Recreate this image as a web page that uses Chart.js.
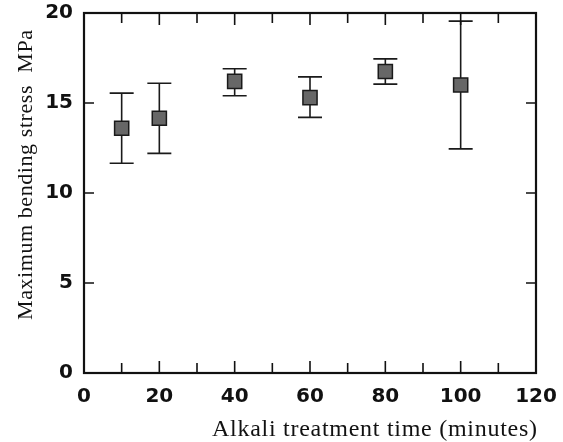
<!DOCTYPE html>
<html>
<head>
<meta charset="utf-8">
<script src="https://cdn.jsdelivr.net/npm/chart.js@4/dist/chart.umd.min.js"></script>
<style>
  html, body { margin: 0; padding: 0; background: #fff; }
  #wrap { width: 563px; height: 442px; }
</style>
</head>
<body>
<div id="wrap"><canvas id="chart" width="563" height="442"></canvas></div>
<script>
// Data
const times = [10, 20, 40, 60, 80, 100];            // minutes
const stress = [13.6, 14.15, 16.2, 15.3, 16.75, 16.0]; // MPa
const errHigh = [15.55, 16.1, 16.9, 16.45, 17.45, 19.55];
const errLow = [11.65, 12.2, 15.4, 14.2, 16.05, 12.45];

const xTicks = [0, 20, 40, 60, 80, 100, 120];
const xMinor = [10, 30, 50, 70, 90, 110];
const yTicks = [0, 5, 10, 15, 20];

const xTitle = 'Alkali treatment time (minutes)';
const yTitle = 'Maximum bending stress  MPa';

// Draw text stretched to a given width with letter spacing
function spacedText(ctx, text, x, y, width) {
  const w = ctx.measureText(text).width;
  ctx.letterSpacing = Math.max(0, (width - w) / (text.length - 1)) + 'px';
  ctx.fillText(text, x, y);
  ctx.letterSpacing = '0px';
}

// Error bars, frame, inward ticks and axis titles
const decorPlugin = {
  id: 'decor',
  beforeDatasetsDraw(chart) {
    const ctx = chart.ctx;
    const xs = chart.scales.x, ys = chart.scales.y;
    ctx.save();
    ctx.strokeStyle = '#1a1a1a';
    ctx.lineWidth = 1.6;
    times.forEach((t, i) => {
      const px = xs.getPixelForValue(t);
      const top = ys.getPixelForValue(errHigh[i]);
      const bot = ys.getPixelForValue(errLow[i]);
      ctx.beginPath();
      ctx.moveTo(px, top); ctx.lineTo(px, bot);
      ctx.moveTo(px - 12, top); ctx.lineTo(px + 12, top);
      ctx.moveTo(px - 12, bot); ctx.lineTo(px + 12, bot);
      ctx.stroke();
    });
    ctx.restore();
  },
  afterDraw(chart) {
    const ctx = chart.ctx;
    const a = chart.chartArea;
    const xs = chart.scales.x, ys = chart.scales.y;
    ctx.save();
    ctx.strokeStyle = '#111';
    // ticks
    ctx.lineWidth = 1.6;
    ctx.beginPath();
    xTicks.forEach(v => {
      const px = xs.getPixelForValue(v);
      ctx.moveTo(px, a.bottom); ctx.lineTo(px, a.bottom - 12);
      ctx.moveTo(px, a.top); ctx.lineTo(px, a.top + 12);
    });
    xMinor.forEach(v => {
      const px = xs.getPixelForValue(v);
      ctx.moveTo(px, a.bottom); ctx.lineTo(px, a.bottom - 10);
      ctx.moveTo(px, a.top); ctx.lineTo(px, a.top + 10);
    });
    yTicks.forEach(v => {
      const py = ys.getPixelForValue(v);
      ctx.moveTo(a.left, py); ctx.lineTo(a.left + 10, py);
      ctx.moveTo(a.right, py); ctx.lineTo(a.right - 10, py);
    });
    ctx.stroke();
    // frame
    ctx.lineWidth = 2.2;
    ctx.strokeRect(a.left, a.top, a.right - a.left, a.bottom - a.top);

    // axis titles
    ctx.fillStyle = '#111';
    ctx.font = '24px "Liberation Serif", "DejaVu Serif", serif';
    ctx.textAlign = 'left';
    ctx.textBaseline = 'alphabetic';
    spacedText(ctx, xTitle, 212, 436, 325);

    ctx.font = '22px "Liberation Serif", "DejaVu Serif", serif';
    ctx.translate(32, 320);
    ctx.rotate(-Math.PI / 2);
    spacedText(ctx, yTitle, 0, 0, 290);
    ctx.restore();
  }
};

const tickFont = { family: '"DejaVu Sans", Arial, sans-serif', size: 20, weight: 'bold', lineHeight: 1 };

new Chart(document.getElementById('chart'), {
  type: 'scatter',
  data: {
    datasets: [{
      data: times.map((t, i) => ({ x: t, y: stress[i] })),
      pointStyle: 'rect',
      pointRadius: 10,
      pointHoverRadius: 10,
      backgroundColor: '#676767',
      borderColor: '#1a1a1a',
      borderWidth: 1.5
    }]
  },
  options: {
    responsive: false,
    animation: false,
    events: [],
    layout: { padding: { left: 0, top: 11, right: 27, bottom: 0 } },
    plugins: { legend: { display: false }, tooltip: { enabled: false } },
    scales: {
      x: {
        type: 'linear',
        min: 0, max: 120,
        grid: { display: false },
        border: { display: false },
        ticks: { stepSize: 20, color: '#111', font: tickFont, padding: 6, maxRotation: 0 },
        afterFit(scale) { scale.height = 69; }
      },
      y: {
        min: 0, max: 20,
        grid: { display: false },
        border: { display: false },
        ticks: { stepSize: 5, color: '#111', font: tickFont, padding: 3 },
        afterFit(scale) { scale.width = 84; }
      }
    }
  },
  plugins: [decorPlugin]
});
</script>
</body>
</html>
